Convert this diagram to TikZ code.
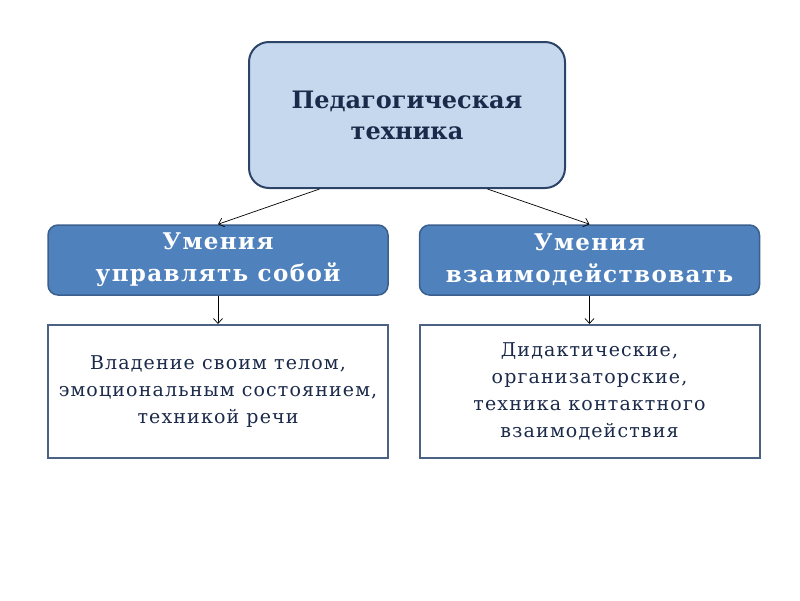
\documentclass[tikz,border=0pt]{standalone}
\usepackage{fontspec}
\setmainfont{DejaVu Serif}
\newfontfamily\spaced[LetterSpace=6]{DejaVu Serif}
\usetikzlibrary{arrows.meta,calc}
\definecolor{topfill}{HTML}{C6D8EE}
\definecolor{topdraw}{HTML}{2C4468}
\definecolor{midfill}{HTML}{4F81BD}
\definecolor{middraw}{HTML}{3A5F8C}
\definecolor{botdraw}{HTML}{4C6282}
\definecolor{navy}{HTML}{1B2A4A}
\tikzset{
  topbox/.style={draw=topdraw, line width=2pt, fill=topfill, rounded corners=20pt,
    minimum width=316pt, minimum height=146pt, align=center, text=navy,
    font=\bfseries\fontsize{24}{31}\selectfont, inner sep=0pt},
  midbox/.style={draw=middraw, line width=1.5pt, fill=midfill, rounded corners=10pt,
    minimum width=340pt, minimum height=70pt, align=center, text=white,
    font=\spaced\bfseries\fontsize{23}{32}\selectfont, inner sep=0pt},
  botbox/.style={draw=botdraw, line width=2pt, fill=white,
    minimum width=340pt, minimum height=133pt, align=center, text=navy,
    font=\spaced\fontsize{19}{27}\selectfont, inner sep=0pt},
  conn/.style={draw=black, line width=0.7pt, -{Straight Barb[length=5pt,width=9pt]}}
}
\begin{document}
\begin{tikzpicture}[x=1pt,y=-1pt]
\useasboundingbox (0,0) rectangle (800,600);
\node[topbox] (top) at (407,115) {Педагогическая\\техника};
\node[midbox] (ml) at (218,260) {Умения\\управлять собой};
\node[midbox] (mr) at (589.5,260) {Умения\\взаимодействовать};
\node[botbox] (bl) at (218,391.5) {Владение своим телом,\\эмоциональным состоянием,\\техникой речи};
\node[botbox] (br) at (589.5,391.5) {Дидактические,\\организаторские,\\техника контактного\\взаимодействия};
\coordinate (tl) at ($(top.south west)!0.225!(top.south east)$);
\coordinate (tr) at ($(top.south west)!0.753!(top.south east)$);
\draw[conn] (tl) -- (ml.north);
\draw[conn] (tr) -- (mr.north);
\draw[conn] (ml.south) -- (bl.north);
\draw[conn] (mr.south) -- (br.north);
\end{tikzpicture}
\end{document}
